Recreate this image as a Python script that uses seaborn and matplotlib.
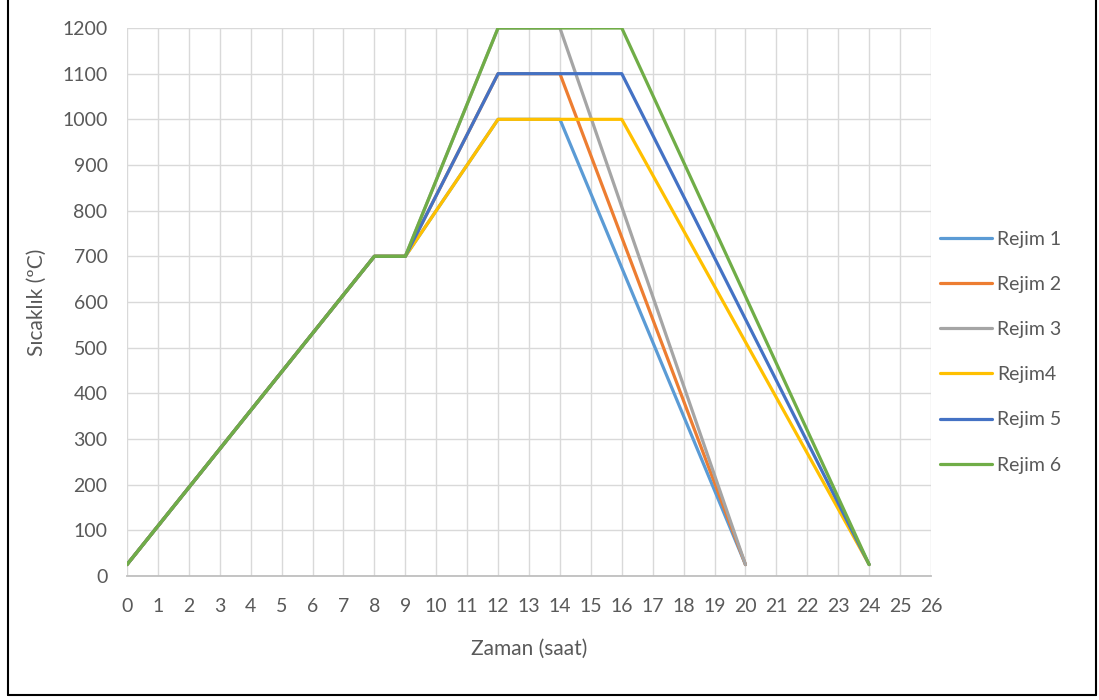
import pandas as pd
import seaborn as sns
import matplotlib.pyplot as plt
from matplotlib.lines import Line2D

# veriler
rejimler = ["Rejim 1", "Rejim 2", "Rejim 3", "Rejim4", "Rejim 5", "Rejim 6"]
zaman_kisa = [0, 8, 9, 12, 14, 20]
zaman_uzun = [0, 8, 9, 12, 16, 24]
sicaklik_1000 = [25, 700, 700, 1000, 1000, 25]
sicaklik_1100 = [25, 700, 700, 1100, 1100, 25]
sicaklik_1200 = [25, 700, 700, 1200, 1200, 25]
x_ticks = list(range(0, 27))
y_ticks = list(range(0, 1201, 100))

renkler = ["#5B9BD5", "#ED7D31", "#A5A5A5", "#FFC000", "#4472C4", "#70AD47"]

seriler = [
    (zaman_kisa, sicaklik_1000),
    (zaman_kisa, sicaklik_1100),
    (zaman_kisa, sicaklik_1200),
    (zaman_uzun, sicaklik_1000),
    (zaman_uzun, sicaklik_1100),
    (zaman_uzun, sicaklik_1200),
]
satirlar = []
for ad, (xs, ys) in zip(rejimler, seriler):
    for x, y in zip(xs, ys):
        satirlar.append({"Rejim": ad, "Zaman": x, "Sicaklik": y})
df = pd.DataFrame(satirlar)

sns.set_style("white")
plt.rcParams["font.family"] = ["Lato", "DejaVu Sans"]

fig = plt.figure(figsize=(10.99, 7), dpi=100)
ax = fig.add_axes([127 / 1099, 1 - 576 / 700, (931 - 127) / 1099, (576 - 28) / 700])

sns.lineplot(data=df, x="Zaman", y="Sicaklik", hue="Rejim", hue_order=rejimler,
             palette=renkler, sort=False, estimator=None, units="Rejim",
             linewidth=2.3, ax=ax, legend=False)

ax.set_xlim(0, 26)
ax.set_ylim(0, 1200)
ax.set_xticks(x_ticks)
ax.set_yticks(y_ticks)
ax.grid(True, color="#D9D9D9", linewidth=1.0)
ax.set_axisbelow(True)
for s in ["top", "right", "left"]:
    ax.spines[s].set_visible(False)
ax.spines["bottom"].set_color("#BFBFBF")
ax.spines["bottom"].set_linewidth(1.3)
ax.tick_params(axis="x", length=0, labelsize=14, colors="#595959", pad=16)
ax.tick_params(axis="y", length=0, labelsize=14, colors="#595959", pad=14)
ax.set_xlabel("Zaman (saat)", fontsize=15, color="#595959", labelpad=17)
ax.set_ylabel("Sıcaklık (ºC)", fontsize=15, color="#595959", labelpad=11)

handles = [Line2D([0], [0], color=c, linewidth=2.3) for c in renkler]
leg = fig.legend(handles, rejimler, loc="center left", bbox_to_anchor=(0.855, 0.497),
                 frameon=False, fontsize=14, handlelength=2.7, labelspacing=1.45,
                 handletextpad=0.25, borderaxespad=0, borderpad=0)
for t in leg.get_texts():
    t.set_color("#595959")

# dış çerçeve
alt = 1 - 695 / 700
sol = 8 / 1099
sag = 1096 / 1099
fig.add_artist(Line2D([sol, sol], [alt, 1.0], color="black", linewidth=1.5))
fig.add_artist(Line2D([sag, sag], [alt, 1.0], color="black", linewidth=1.5))
fig.add_artist(Line2D([sol, sag], [alt, alt], color="black", linewidth=1.5))

fig.savefig("out.png", dpi=100)
